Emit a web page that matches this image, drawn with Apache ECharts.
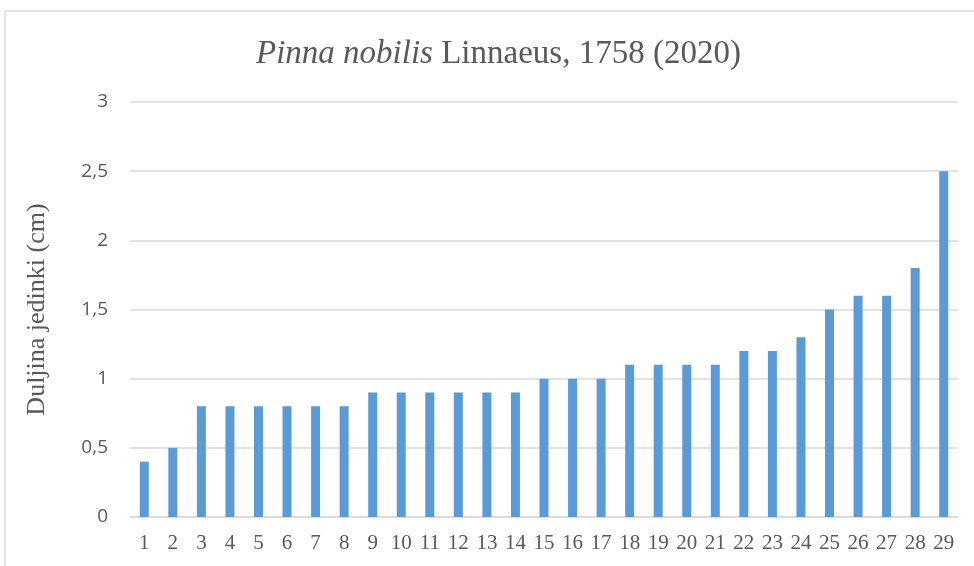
<!DOCTYPE html>
<html>
<head>
<meta charset="utf-8">
<script src="https://cdn.jsdelivr.net/npm/echarts@6/dist/echarts.min.js"></script>
<style>
  html, body { margin: 0; padding: 0; background: #fff; }
  #chart { width: 974px; height: 566px; }
</style>
</head>
<body>
<div id="chart"></div>
<script>
    // podaci
    var categories = ['1','2','3','4','5','6','7','8','9','10','11','12','13','14','15','16','17','18','19','20','21','22','23','24','25','26','27','28','29'];
    var lengths = [0.4, 0.5, 0.8, 0.8, 0.8, 0.8, 0.8, 0.8, 0.9, 0.9, 0.9, 0.9, 0.9, 0.9, 1.0, 1.0, 1.0, 1.1, 1.1, 1.1, 1.1, 1.2, 1.2, 1.3, 1.5, 1.6, 1.6, 1.8, 2.5];
    var yMin = 0, yMax = 3, yStep = 0.5;

    var myChart = echarts.init(document.getElementById('chart'));
    var option = {
        backgroundColor: '#fff',
        graphic: [{
            type: 'rect',
            shape: { x: 5, y: 11, width: 1000, height: 600 },
            style: { fill: 'none', stroke: '#d9d9d9', lineWidth: 1.5 },
            silent: true
        }],
        title: {
            text: '{i|Pinna nobilis} Linnaeus, 1758 (2020)',
            left: 251,
            top: 33,
            textStyle: {
                fontFamily: 'Liberation Serif',
                fontSize: 33,
                fontWeight: 'normal',
                color: '#595959',
                rich: {
                    i: { fontFamily: 'Liberation Serif', fontStyle: 'italic', fontSize: 33, color: '#595959' }
                }
            }
        },
        grid: { left: 130, right: 16, top: 102, bottom: 49 },
        xAxis: {
            type: 'category',
            data: categories,
            axisLine: { lineStyle: { color: '#d9d9d9', width: 1.5 } },
            axisTick: { show: false },
            axisLabel: {
                interval: 0,
                margin: 16,
                fontFamily: 'Liberation Serif',
                fontSize: 21,
                color: '#595959'
            }
        },
        yAxis: {
            type: 'value',
            min: yMin,
            max: yMax,
            interval: yStep,
            name: 'Duljina jedinki (cm)',
            nameLocation: 'middle',
            nameGap: 80,
            nameTextStyle: { fontFamily: 'Liberation Serif', fontSize: 26, color: '#595959' },
            axisLine: { show: false },
            axisTick: { show: false },
            splitLine: { lineStyle: { color: '#d9d9d9', width: 1.5 } },
            axisLabel: {
                margin: 22,
                fontFamily: 'Open Sans',
                fontSize: 19,
                color: '#595959',
                formatter: function (v) { return String(v).replace('.', ','); }
            }
        },
        series: [{
            type: 'bar',
            data: lengths,
            barWidth: 9,
            itemStyle: { color: '#5b9bd5' }
        }]
    };
    myChart.setOption(option);
</script>
</body>
</html>
